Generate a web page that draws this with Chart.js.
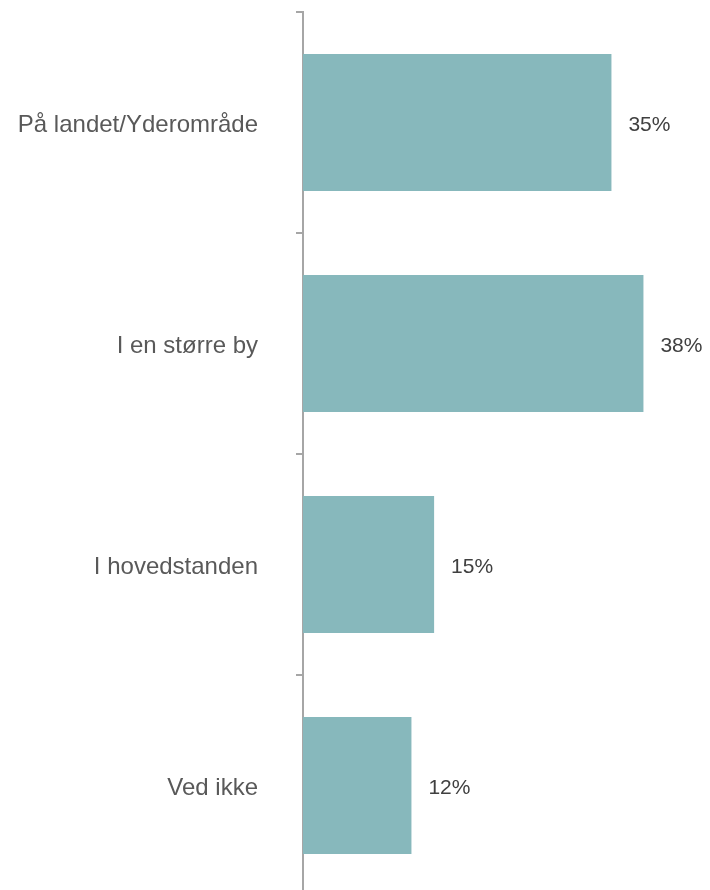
<!DOCTYPE html>
<html>
<head>
<meta charset="utf-8">
<script src="https://cdn.jsdelivr.net/npm/chart.js@4/dist/chart.umd.min.js"></script>
<style>
  html, body { margin: 0; padding: 0; background: #fff; overflow: hidden; }
  #wrap { width: 710px; height: 896px; position: relative; }
</style>
</head>
<body>
<div id="wrap"><canvas id="bosted"></canvas></div>
<script>
const categories = ["På landet/Yderområde", "I en større by", "I hovedstanden", "Ved ikke"]
const values = [34.7, 38.3, 14.75, 12.2]
const valueLabels = ["35%", "38%", "15%", "12%"]

// draws the percent text just right of each bar
const barLabels = {
    id: 'barLabels',
    afterDatasetsDraw(chart) {
        const ctx = chart.ctx
        const meta = chart.getDatasetMeta(0)
        ctx.save()
        ctx.font = '21px "Liberation Sans", Arial, sans-serif'
        ctx.fillStyle = '#404040'
        ctx.textAlign = 'left'
        ctx.textBaseline = 'middle'
        meta.data.forEach((bar, i) => {
            ctx.fillText(valueLabels[i], bar.x + 17, bar.y + 3)
        })
        ctx.restore()
    }
}

const bosted = new Chart("bosted", {
    type: "bar",
    data: {
        labels: categories,
        datasets: [{
            data: values,
            backgroundColor: "#87B8BC",
            categoryPercentage: 1,
            barPercentage: 0.62,
        }]
    },
    options: {
        indexAxis: 'y',
        responsive: true,
        maintainAspectRatio: false,
        animation: false,
        layout: { padding: { top: 12, right: 7, bottom: 0, left: 0 } },
        plugins: {
            legend: { display: false },
            tooltip: { enabled: false }
        },
        scales: {
            x: {
                display: false,
                min: 0,
                max: 45
            },
            y: {
                afterFit(scale) {
                    scale.width = 303
                    scale.paddingTop = 0
                    scale.paddingBottom = 0
                },
                border: { display: true, color: '#A6A6A6', width: 2 },
                grid: {
                    drawOnChartArea: false,
                    drawTicks: true,
                    tickLength: 7,
                    color: '#A6A6A6',
                    lineWidth: 2
                },
                ticks: {
                    padding: 38,
                    labelOffset: 3,
                    color: '#595959',
                    font: { family: '"Liberation Sans", Arial, sans-serif', size: 24 }
                }
            }
        }
    },
    plugins: [barLabels]
})
</script>
</body>
</html>
